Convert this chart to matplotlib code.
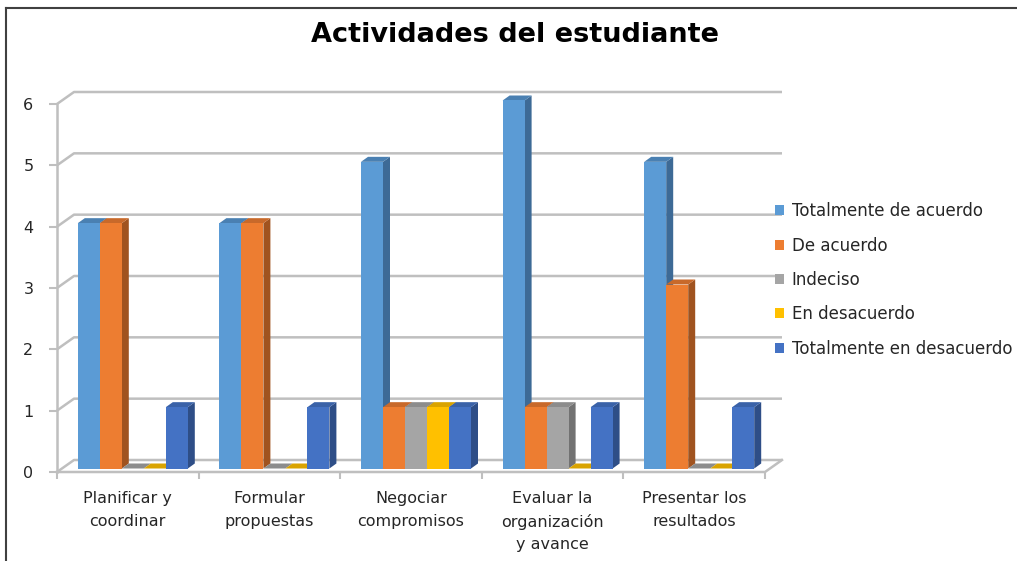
import matplotlib.pyplot as plt
from matplotlib.patches import Polygon, Patch
from matplotlib.lines import Line2D

categories = ["Planificar y\ncoordinar", "Formular\npropuestas", "Negociar\ncompromisos",
              "Evaluar la\norganización\ny avance", "Presentar los\nresultados"]
series = ["Totalmente de acuerdo", "De acuerdo", "Indeciso", "En desacuerdo",
          "Totalmente en desacuerdo"]
totalmente_acuerdo = [4, 4, 5, 6, 5]
de_acuerdo = [4, 4, 1, 1, 3]
indeciso = [0, 0, 1, 1, 0]
en_desacuerdo = [0, 0, 1, 0, 0]
totalmente_desacuerdo = [1, 1, 1, 1, 1]
yticks = [0, 1, 2, 3, 4, 5, 6]

values = [totalmente_acuerdo, de_acuerdo, indeciso, en_desacuerdo, totalmente_desacuerdo]
front = ['#5B9BD5', '#ED7D31', '#A5A5A5', '#FFC000', '#4472C4']
side = ['#3D6A96', '#A0531F', '#727272', '#B38600', '#2E4E87']
top = ['#4A80B2', '#C8692A', '#8C8C8C', '#D9A300', '#3A62A8']

W, H = 1017, 561
fig = plt.figure(figsize=(W / 100, H / 100), dpi=100)
# front plane of the plot: x 57..765 px, y 472..104 px
ax = fig.add_axes([57 / W, (H - 472) / H, 708 / W, 368 / H])
ncat = len(categories)
ax.set_xlim(0, ncat)
ax.set_ylim(0, 6)
ux = ncat / 708.0   # data units per pixel
uy = 6 / 368.0

grid_c = '#BFBFBF'
# back wall offset
bdx, bdy = 17 * ux, 12 * uy
for v in yticks:
    ax.plot([0, bdx, ncat + bdx], [v, v + bdy, v + bdy], color=grid_c, lw=1.8,
            clip_on=False, zorder=1, solid_capstyle='butt')
# floor
ax.plot([0, ncat, ncat + bdx], [0, 0, bdy], color=grid_c, lw=1.8, clip_on=False, zorder=1)

# bars
nser = len(series)
bw = 22 * ux
gw = bw * nser
fdx, fdy = 5 * ux, 3.5 * uy   # bar front face shift
sdx, sdy = 7 * ux, 5 * uy     # bar depth
for i in range(ncat):
    for j in range(nser):
        v = values[j][i]
        x0 = i + (1 - gw) / 2 + j * bw + fdx
        x1 = x0 + bw
        y0, y1 = fdy, v + fdy
        z = 3 + i * 10 + j
        ax.add_patch(Polygon([(x1, y0), (x1 + sdx, y0 + sdy), (x1 + sdx, y1 + sdy), (x1, y1)],
                             closed=True, fc=side[j], ec='none', clip_on=False, zorder=z))
        ax.add_patch(Polygon([(x0, y1), (x1, y1), (x1 + sdx, y1 + sdy), (x0 + sdx, y1 + sdy)],
                             closed=True, fc=top[j], ec='none', clip_on=False, zorder=z))
        if v > 0:
            ax.add_patch(Polygon([(x0, y0), (x1, y0), (x1, y1), (x0, y1)],
                                 closed=True, fc=front[j], ec='none', clip_on=False, zorder=z))

# axes styling
for s in ['top', 'right', 'bottom']:
    ax.spines[s].set_visible(False)
ax.spines['left'].set_color(grid_c)
ax.spines['left'].set_linewidth(1.8)
ax.set_yticks(yticks)
ax.set_yticklabels([str(t) for t in yticks])
ax.tick_params(axis='y', length=6, width=1.5, color=grid_c, pad=11, labelsize=11.5,
               labelcolor='#262626')
ax.set_xticks([i + 0.5 for i in range(ncat)])
ax.set_xticklabels(categories, fontsize=11.5, color='#262626', linespacing=1.6)
ax.set_xticks(range(ncat + 1), minor=True)
ax.tick_params(axis='x', which='major', length=0, pad=14)
ax.tick_params(axis='x', which='minor', length=5, width=1.5, color=grid_c)
ax.set_facecolor('none')

# title
fig.text(515 / W, 1 - 35 / H, 'Actividades del estudiante', ha='center', va='center',
         fontsize=19.5, fontweight='bold', color='#000000')

# legend
handles = [Patch(facecolor=c, edgecolor='none') for c in front]
fig.legend(handles, series, loc='center left', bbox_to_anchor=(775 / W, 1 - 280 / H),
           frameon=False, fontsize=12, handlelength=0.55, handleheight=0.55,
           handletextpad=0.45, labelspacing=0.98, borderpad=0, borderaxespad=0,
           labelcolor='#262626')

# frame of the chart area
fig.add_artist(Line2D([6 / W, 1], [1 - 8 / H, 1 - 8 / H], color='#404040', lw=1.5))
fig.add_artist(Line2D([6 / W, 6 / W], [0, 1 - 8 / H], color='#404040', lw=1.5))

fig.savefig('out.png', dpi=100)
